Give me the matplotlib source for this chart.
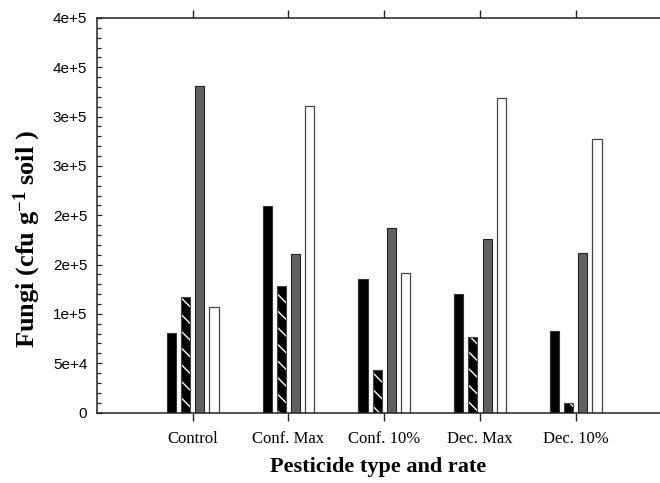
import numpy as np
import matplotlib
matplotlib.use('Agg')
import matplotlib.pyplot as plt
from matplotlib.ticker import MultipleLocator, FixedLocator

plt.rcParams['font.family'] = ['Liberation Serif', 'DejaVu Serif']
plt.rcParams['mathtext.fontset'] = 'custom'
plt.rcParams['mathtext.rm'] = 'Liberation Serif'
plt.rcParams['mathtext.bf'] = 'Liberation Serif:bold'
plt.rcParams['mathtext.default'] = 'bf'
plt.rcParams['hatch.linewidth'] = 1.0

# data (cfu per g soil), one list per series
groups = ['Control', 'Conf. Max', 'Conf. 10%', 'Dec. Max', 'Dec. 10%']
series_a = [81000, 209700, 135000, 119800, 82900]
series_b = [117400, 128000, 43100, 76600, 9600]
series_c = [331400, 160700, 186800, 175900, 161400]
series_d = [106700, 310500, 141100, 318600, 277000]

yticks = [0, 50000, 100000, 150000, 200000, 250000, 300000, 350000, 400000]
yticklabels = ['0', '5e+4', '1e+5', '2e+5', '2e+5', '3e+5', '3e+5',
               '4e+5', '4e+5']

fig = plt.figure(figsize=(6.6, 4.83), dpi=100)
ax = fig.add_axes([97 / 660, 1 - 412.5 / 483, 1 - 97 / 660,
                   (412.5 - 18) / 483])

x = np.arange(len(groups))
width = 0.095
step = 0.148

ax.bar(x - 1.5 * step, series_a, width, color='black',
       edgecolor='#333333', linewidth=0.8)
ax.bar(x - 0.5 * step, series_b, width, color='black',
       edgecolor='white', linewidth=0, hatch='\\\\')
ax.bar(x - 0.5 * step, series_b, width, color='none',
       edgecolor='#444444', linewidth=0.8)
ax.bar(x + 0.5 * step, series_c, width, color='#606060',
       edgecolor='#222222', linewidth=0.8)
ax.bar(x + 1.5 * step, series_d, width, color='white',
       edgecolor='#444444', linewidth=0.9)

ax.set_xlim(-1.0, 4.88)
ax.set_ylim(0, 400000)

ax.spines['right'].set_visible(False)
for side in ['top', 'bottom', 'left']:
    ax.spines[side].set_linewidth(1.1)
    ax.spines[side].set_color('#222222')

ax.set_xticks(x)
ax.set_xticklabels(groups, fontsize=12)
ax.tick_params(axis='x', direction='out', length=5.5, width=1.0,
               top=True, bottom=True, pad=8, colors='#222222',
               labelcolor='black')

ax.yaxis.set_major_locator(FixedLocator(yticks))
ax.set_yticklabels(yticklabels, family=['Liberation Sans', 'DejaVu Sans'],
                   fontsize=11)
ax.yaxis.set_minor_locator(MultipleLocator(10000))
ax.tick_params(axis='y', which='both', direction='in', length=3.5,
               width=0.9, pad=7, colors='#222222', labelcolor='black')
ax.tick_params(axis='y', which='minor', length=3.0)

ax.set_xlabel('Pesticide type and rate', fontsize=16, fontweight='bold',
              labelpad=7)
ax.set_ylabel(r'Fungi (cfu g$^{-1}$ soil )', fontsize=19,
              fontweight='bold')
ax.yaxis.set_label_coords(-0.096, 0.44)

fig.savefig('out.png', dpi=100)
